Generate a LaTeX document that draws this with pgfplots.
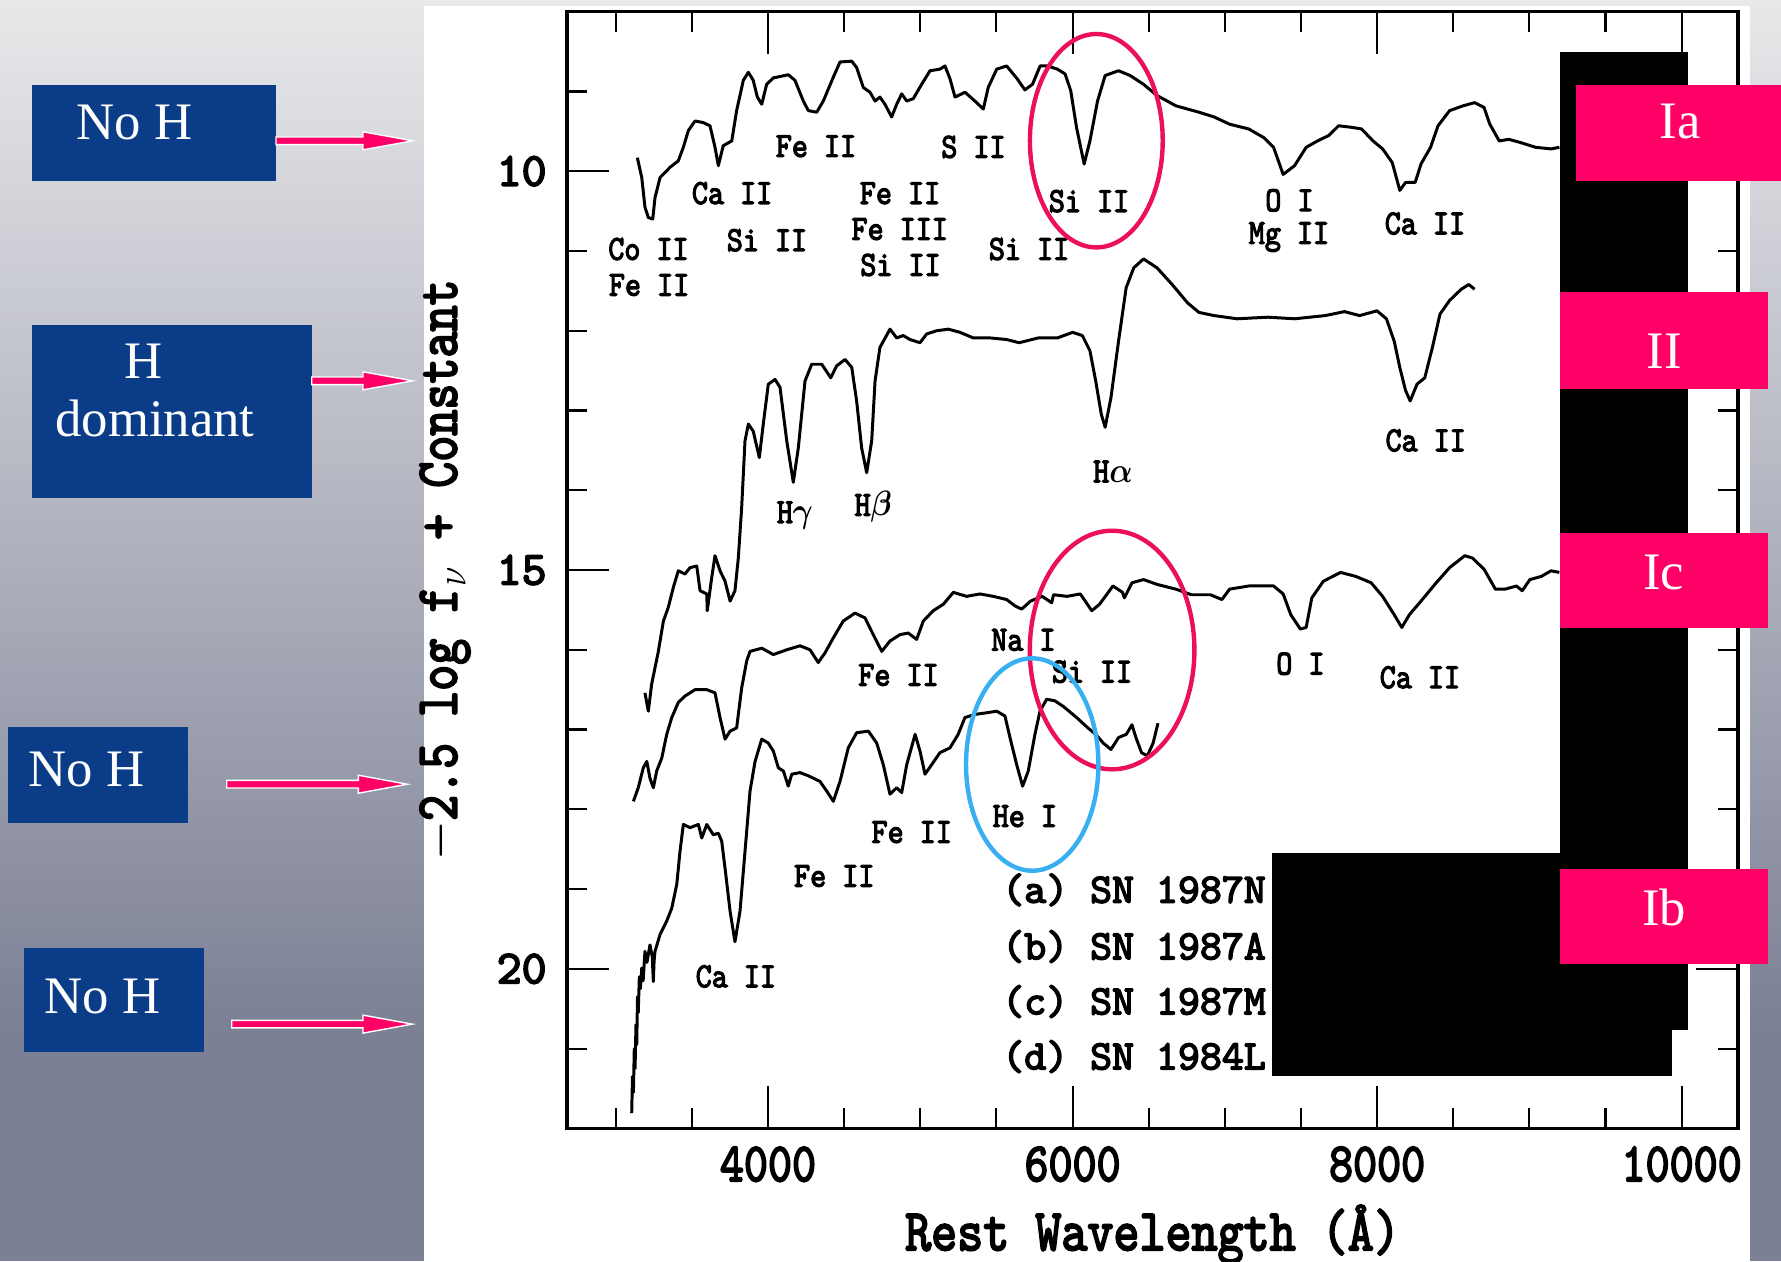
\documentclass[border=0pt]{standalone}
\usepackage{amsmath}
\usepackage{fontspec}
\usepackage{pgfplots}
\pgfplotsset{compat=1.18}
\usepackage{graphicx}
\newfontfamily\slidefont{Liberation Serif}
\newfontfamily\tlab{lmmono10-regular}[Extension=.otf, FakeBold=3.5]
\definecolor{boxblue}{RGB}{10,60,135}
\definecolor{boxpink}{RGB}{255,0,102}
\definecolor{ellpink}{RGB}{236,16,92}
\definecolor{ellblue}{RGB}{55,175,240}
\definecolor{bgtop}{RGB}{232,232,234}
\definecolor{bgbot}{RGB}{124,128,149}
\newcommand\lb[1]{\scalebox{0.87}[1]{#1}}
\newcommand\xl[1]{\scalebox{0.83}[1]{#1}}
\newcommand\ax[1]{\scalebox{0.84}[1]{#1}}
\tikzset{lab/.style={font=\tlab\fontsize{10}{11}\selectfont, inner sep=0pt, anchor=base},
  leg/.style={font=\tlab\fontsize{11.9}{13}\selectfont, inner sep=0pt, anchor=west},
  slide/.style={white, font=\slidefont\fontsize{15}{18}\selectfont, anchor=base, inner sep=0pt}}
\begin{document}
\begin{tikzpicture}
\useasboundingbox (0,0) rectangle (178.1mm,-126.1mm);
\begin{scope}[x=0.1mm,y=-0.1mm]
\shade[top color=bgtop,bottom color=bgbot] (0,0) rectangle (1781,1030);
\fill[bgbot] (0,1029) rectangle (1781,1261);
\fill[white] (424,6) rectangle (1750,1261);
\end{scope}
\begin{axis}[
  at={(115.25mm,-57.0mm)}, anchor=center,
  width=117.1mm, height=111.66mm, scale only axis,
  xmin=2680, xmax=10370, ymin=8, ymax=22, y dir=reverse,
  scaled x ticks=false, scaled y ticks=false,
  xtick={4000,6000,8000,10000},
  xticklabels={\xl{4000},\xl{6000},\xl{8000},\xl{10000}},
  minor xtick={3000,3500,4500,5000,5500,6500,7000,7500,8500,9000,9500},
  ytick={10,15,20}, yticklabels={10,15,20},
  minor ytick={9,11,12,13,14,16,17,18,19,21},
  tick align=inside,
  major tick length=4.2mm, minor tick length=2mm,
  axis line style={line width=0.9pt},
  every tick/.append style={line width=0.6pt, black},
  xticklabel style={font=\tlab\fontsize{15.7}{17}\selectfont, yshift=-0.6mm},
  yticklabel style={font=\tlab\fontsize{13.5}{15}\selectfont, xshift=-0.8mm},
  xlabel={\ax{Rest Wavelength (Å)}},
  ylabel={\ax{$-$2.5 log f$_\nu$ + Constant}},
  xlabel style={font=\tlab\fontsize{16.8}{18}\selectfont, at={(axis description cs:0.5,-0.0949)}, anchor=center},
  ylabel style={font=\tlab\fontsize{16.8}{18}\selectfont, at={(axis description cs:-0.1042,0.5)}, anchor=center},
]
% (a) SN 1987N
\addplot[black, line width=0.85pt, line join=round] coordinates {
(3142,9.83) (3171,10.08) (3192,10.45) (3214,10.58) (3243,10.60) (3258,10.33) (3291,10.08) (3357,9.95) (3411,9.87) (3444,9.70) (3477,9.49) (3521,9.37) (3575,9.39) (3619,9.43) (3652,9.70) (3674,9.93) (3706,9.68) (3762,9.62) (3794,9.24) (3838,8.86) (3871,8.76) (3903,8.86) (3930,9.07) (3959,9.16) (3991,8.91) (4035,8.83) (4133,8.79) (4177,8.86) (4232,9.12) (4265,9.24) (4320,9.26) (4363,9.12) (4429,8.82) (4473,8.63) (4550,8.62) (4582,8.70) (4626,8.95) (4670,9.01) (4703,9.12) (4735,9.07) (4768,9.16) (4812,9.32) (4845,9.16) (4878,9.03) (4911,9.12) (4954,9.09) (5009,8.91) (5064,8.74) (5129,8.72) (5162,8.68) (5195,8.84) (5228,9.07) (5294,9.01) (5359,9.12) (5414,9.22) (5446,8.95) (5502,8.72) (5567,8.68) (5636,8.84) (5687,8.98) (5737,8.91) (5787,8.68) (5837,8.68) (5900,8.72) (5951,8.78) (5988,8.99) (6026,9.45) (6076,9.91) (6114,9.62) (6164,9.12) (6214,8.80) (6302,8.74) (6378,8.80) (6466,8.91) (6554,9.05) (6679,9.18) (6830,9.26) (6930,9.32) (7031,9.41) (7157,9.47) (7257,9.58) (7320,9.70) (7383,10.04) (7458,9.93) (7534,9.70) (7609,9.62) (7684,9.55) (7747,9.43) (7835,9.45) (7898,9.47) (7973,9.62) (8036,9.72) (8099,9.89) (8149,10.24) (8187,10.14) (8250,10.14) (8288,9.91) (8351,9.70) (8400,9.43) (8476,9.24) (8564,9.18) (8640,9.14) (8702,9.20) (8740,9.41) (8802,9.62) (8865,9.60) (8941,9.64) (9041,9.70) (9142,9.72) (9197,9.70)
};
% (b) SN 1987A
\addplot[black, line width=0.85pt, line join=round] coordinates {
(3192,16.54) (3214,16.77) (3236,16.43) (3280,16.02) (3313,15.64) (3345,15.47) (3378,15.22) (3411,15.01) (3455,15.05) (3488,14.97) (3532,14.95) (3554,15.26) (3598,15.30) (3601,15.51) (3630,15.10) (3652,14.82) (3685,15.01) (3718,15.14) (3751,15.39) (3783,15.26) (3805,14.85) (3827,14.22) (3849,13.38) (3871,13.17) (3903,13.26) (3943,13.59) (3969,13.17) (4002,12.67) (4046,12.61) (4079,12.71) (4123,13.38) (4166,13.90) (4199,13.47) (4243,12.63) (4287,12.42) (4353,12.42) (4412,12.59) (4451,12.44) (4506,12.36) (4550,12.46) (4582,12.88) (4615,13.47) (4648,13.78) (4681,13.38) (4703,12.63) (4735,12.21) (4801,11.98) (4845,12.09) (4888,12.06) (4932,12.11) (4998,12.15) (5042,12.04) (5108,12.00) (5184,11.98) (5261,12.02) (5348,12.09) (5458,12.09) (5567,12.11) (5649,12.15) (5775,12.09) (5900,12.09) (6001,12.02) (6064,12.06) (6114,12.25) (6152,12.63) (6189,13.05) (6214,13.21) (6252,12.84) (6302,12.13) (6352,11.46) (6402,11.21) (6466,11.10) (6554,11.21) (6654,11.42) (6755,11.65) (6830,11.77) (6930,11.81) (7081,11.85) (7282,11.83) (7458,11.85) (7659,11.81) (7785,11.76) (7885,11.81) (7999,11.75) (8061,11.85) (8112,12.13) (8149,12.46) (8187,12.75) (8217,12.88) (8262,12.67) (8313,12.59) (8363,12.21) (8413,11.79) (8476,11.62) (8552,11.48) (8602,11.42) (8640,11.48)
};
% (c) SN 1987M
\addplot[black, line width=0.85pt, line join=round] coordinates {
(3116,17.90) (3148,17.73) (3181,17.48) (3204,17.40) (3225,17.61) (3247,17.73) (3269,17.52) (3302,17.36) (3335,17.06) (3368,16.85) (3411,16.66) (3455,16.58) (3521,16.50) (3598,16.50) (3652,16.54) (3685,16.85) (3718,17.12) (3751,17.02) (3794,16.98) (3827,16.48) (3860,16.14) (3882,16.02) (3959,15.98) (4035,16.06) (4123,16.00) (4210,15.95) (4276,16.00) (4330,16.16) (4374,16.04) (4429,15.85) (4494,15.64) (4571,15.54) (4637,15.60) (4691,15.81) (4747,16.02) (4801,15.89) (4867,15.81) (4921,15.79) (4976,15.87) (5020,15.64) (5085,15.51) (5151,15.43) (5217,15.28) (5304,15.33) (5392,15.30) (5479,15.33) (5567,15.37) (5622,15.45) (5666,15.49) (5724,15.39) (5800,15.33) (5863,15.41) (5875,15.31) (5963,15.33) (6051,15.30) (6126,15.51) (6177,15.43) (6265,15.20) (6328,15.28) (6340,15.35) (6390,15.16) (6466,15.12) (6554,15.18) (6679,15.24) (6780,15.31) (6905,15.31) (6981,15.37) (7031,15.24) (7157,15.20) (7320,15.20) (7383,15.30) (7433,15.56) (7496,15.74) (7534,15.72) (7571,15.35) (7647,15.14) (7760,15.03) (7860,15.08) (7961,15.16) (8036,15.33) (8112,15.56) (8162,15.72) (8212,15.56) (8288,15.39) (8388,15.16) (8476,14.97) (8576,14.82) (8626,14.85) (8702,14.99) (8777,15.24) (8840,15.24) (8915,15.20) (8953,15.26) (9003,15.12) (9078,15.08) (9142,15.01) (9197,15.03)
};
% (d) SN 1984L
\addplot[black, line width=0.85pt, line join=round] coordinates {
(3105,21.81) (3110,21.35) (3116,21.55) (3122,21.00) (3127,21.25) (3133,20.70) (3138,20.95) (3143,20.35) (3148,20.55) (3155,20.10) (3162,20.25) (3171,19.99) (3180,20.15) (3192,19.78) (3205,19.92) (3225,19.70) (3240,19.85) (3247,20.16) (3252,19.90) (3258,19.78) (3291,19.57) (3335,19.40) (3368,19.24) (3401,18.94) (3422,18.53) (3444,18.19) (3488,18.23) (3543,18.19) (3565,18.36) (3598,18.19) (3641,18.32) (3674,18.30) (3696,18.40) (3718,18.74) (3751,19.28) (3783,19.66) (3816,19.28) (3849,18.53) (3882,17.77) (3915,17.40) (3959,17.12) (4002,17.17) (4035,17.27) (4068,17.48) (4101,17.52) (4133,17.71) (4156,17.56) (4210,17.54) (4265,17.58) (4341,17.65) (4385,17.77) (4429,17.90) (4473,17.65) (4527,17.23) (4582,17.04) (4659,17.02) (4714,17.17) (4757,17.44) (4801,17.81) (4845,17.73) (4878,17.79) (4911,17.44) (4966,17.06) (4998,17.27) (5031,17.56) (5075,17.44) (5129,17.29) (5195,17.23) (5249,17.06) (5293,16.85) (5359,16.81) (5436,16.79) (5502,16.77) (5556,16.83) (5589,17.10) (5633,17.44) (5672,17.71) (5709,17.52) (5753,17.06) (5786,16.77) (5830,16.62) (5884,16.64) (5939,16.71) (6027,16.85) (6101,16.98) (6152,17.06) (6202,17.17) (6252,17.25) (6302,17.10) (6353,17.06) (6390,16.94) (6416,17.10) (6453,17.29) (6491,17.33) (6529,17.17) (6561,16.92)
};
% line identifications
\node[lab] at (axis cs:4315,9.82) {\lb{Fe II}};
\node[lab] at (axis cs:5349,9.83) {\lb{S II}};
\node[lab] at (axis cs:3764,10.41) {\lb{Ca II}};
\node[lab] at (axis cs:4867,10.41) {\lb{Fe II}};
\node[lab] at (axis cs:3993,11.00) {\lb{Si II}};
\node[lab] at (axis cs:4865,10.86) {\lb{Fe III}};
\node[lab] at (axis cs:4870,11.31) {\lb{Si II}};
\node[lab] at (axis cs:3215,11.11) {\lb{Co II}};
\node[lab] at (axis cs:3219,11.56) {\lb{Fe II}};
\node[lab] at (axis cs:5714,11.11) {\lb{Si II}};
\node[lab] at (axis cs:6108,10.51) {\lb{Si II}};
\node[lab] at (axis cs:7424,10.50) {\lb{O I}};
\node[lab] at (axis cs:7421,10.91) {\lb{Mg II}};
\node[lab] at (axis cs:8314,10.79) {\lb{Ca II}};
\node[lab] at (axis cs:4177,14.41) {\lb{H$\boldsymbol{\gamma}$}};
\node[lab] at (axis cs:4691,14.32) {\lb{H$\boldsymbol{\beta}$}};
\node[lab] at (axis cs:6265,13.90) {\lb{H$\boldsymbol{\alpha}$}};
\node[lab] at (axis cs:8319,13.51) {\lb{Ca II}};
\node[lab] at (axis cs:5677,16.01) {\lb{Na I}};
\node[lab] at (axis cs:4857,16.45) {\lb{Fe II}};
\node[lab] at (axis cs:6127,16.41) {\lb{Si II}};
\node[lab] at (axis cs:7496,16.31) {\lb{O I}};
\node[lab] at (axis cs:8281,16.48) {\lb{Ca II}};
\node[lab] at (axis cs:5687,18.22) {\lb{He I}};
\node[lab] at (axis cs:4944,18.42) {\lb{Fe II}};
\node[lab] at (axis cs:4435,18.97) {\lb{Fe II}};
\node[lab] at (axis cs:3789,20.23) {\lb{Ca II}};
\node[leg] at (axis cs:5534,19.01) {(a) SN 1987N};
\node[leg] at (axis cs:5534,19.72) {(b) SN 1987A};
\node[leg] at (axis cs:5534,20.41) {(c) SN 1987M};
\node[leg] at (axis cs:5534,21.10) {(d) SN 1984L};
\end{axis}
\begin{scope}[x=0.1mm,y=-0.1mm]
% ellipses
\draw[ellpink, line width=1.25pt] (1096.3,140.7) ellipse [x radius=6.64mm, y radius=10.67mm];
\draw[ellpink, line width=1.25pt] (1112.1,650) ellipse [x radius=8.23mm, y radius=11.93mm];
\draw[ellblue, line width=1.25pt] (1032.2,764.5) ellipse [x radius=6.62mm, y radius=10.62mm];
% black masks
\fill[black] (1560,52.3) rectangle (1687.7,1029.8);
\fill[black] (1272,852.8) rectangle (1671.7,1076.4);
% pink boxes
\fill[boxpink] (1576,84.5) rectangle (1781,181);
\fill[boxpink] (1560,292) rectangle (1767.7,388.6);
\fill[boxpink] (1560,532.6) rectangle (1767.7,628.3);
\fill[boxpink] (1560,868.9) rectangle (1767.7,963.8);
\node[slide] at (1680,138.4) {Ia};
\node[slide] at (1664.5,368.5) {II};
\node[slide] at (1663.7,589) {Ic};
\node[slide] at (1664,925) {Ib};
% blue boxes
\fill[boxblue] (32,85) rectangle (276,180.6);
\fill[boxblue] (32,325) rectangle (311.7,497.5);
\fill[boxblue] (8,726.5) rectangle (188,822.6);
\fill[boxblue] (24,948.2) rectangle (204,1051.5);
\node[slide] at (134.7,139.7) {No H};
\node[slide] at (143.3,378.9) {H};
\node[slide] at (155,436.3) {dominant};
\node[slide] at (86.7,786.3) {No H};
\node[slide] at (102.3,1013.2) {No H};
% arrows
\filldraw[fill=boxpink, draw=white, line width=0.4pt] (276,137) -- (363,137) -- (363,131.8) -- (412.7,140.8) -- (363,149.8) -- (363,144.6) -- (276,144.6) -- cycle;
\filldraw[fill=boxpink, draw=white, line width=0.4pt] (311.7,377) -- (363,377) -- (363,371.8) -- (412.7,380.8) -- (363,389.8) -- (363,384.6) -- (311.7,384.6) -- cycle;
\filldraw[fill=boxpink, draw=white, line width=0.4pt] (226.7,780.4) -- (358.3,780.4) -- (358.3,775.2) -- (407.3,784.2) -- (358.3,793.2) -- (358.3,788) -- (226.7,788) -- cycle;
\filldraw[fill=boxpink, draw=white, line width=0.4pt] (231.7,1020.3) -- (363,1020.3) -- (363,1015.1) -- (412.3,1024.1) -- (363,1033.1) -- (363,1027.9) -- (231.7,1027.9) -- cycle;
\end{scope}
\end{tikzpicture}
\end{document}
